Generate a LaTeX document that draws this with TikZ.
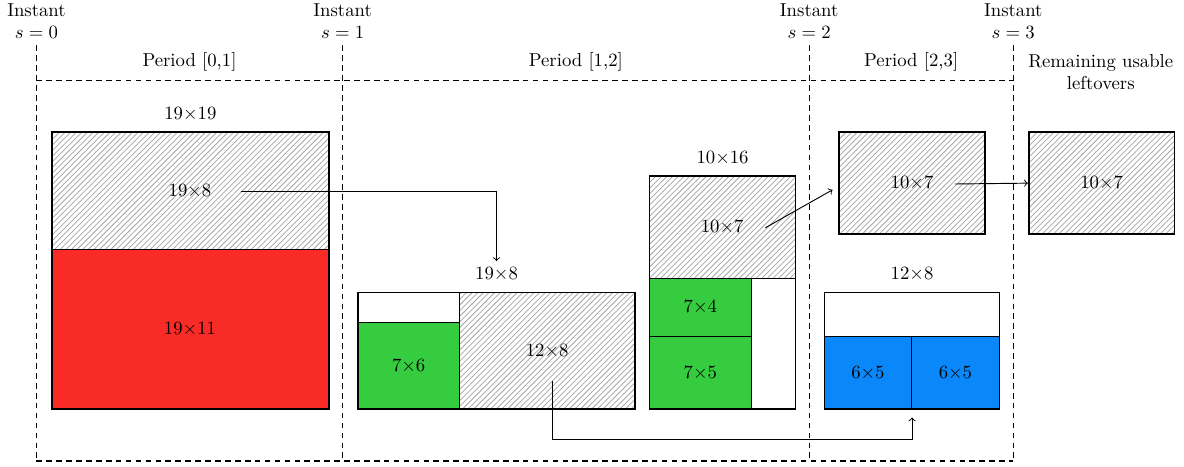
\documentclass[tikz,border=0pt]{standalone}
\usetikzlibrary{patterns,positioning}

\definecolor{usedred}{RGB}{249,43,38}
\definecolor{usedgreen}{RGB}{53,204,64}
\definecolor{usedblue}{RGB}{10,135,248}
\newlength{\boxunit}
\setlength{\boxunit}{0.2736cm}

\begin{document}
\begin{tikzpicture}[x=\boxunit, y=\boxunit,
    piece/.style 2 args={draw, line width=0.5pt, anchor=south west, inner sep=0pt,
      minimum width=#1\boxunit, minimum height=#2\boxunit},
    plate/.style 2 args={piece={#1}{#2}, line width=0.9pt},
    leftover/.style={pattern=north east lines, pattern color=gray!70},
    periodline/.style={line width=0.6pt, dash pattern=on 3pt off 2.3pt},
    carry/.style={->, line width=0.5pt}]
  \useasboundingbox (-3.5,-3.91) rectangle (77.71,28.12);

  % Instants & dashed period frame
  \foreach \x [count=\n from 0] in {-1,20,52,66} {
    \node[anchor=south, align=center] (inst\n) at (\x,25) {Instant\\$s=\n$};
    \draw[periodline] (inst\n.south) -- (\x,-3.5);
  }
  \draw[periodline] (-1,22.6) -- (66,22.6);
  \draw[periodline] (-1,-3.5) -- (66,-3.5);

  % Period labels
  \foreach \a/\b/\per [count=\n] in {-1/20/{[0,1]},20/52/{[1,2]},52/66/{[2,3]}}
    \node[above=1.5pt] (per\n) at ({(\a+\b)/2},22.6) {Period \per};
  \node[align=center, anchor=north] (remain) at (72,24.85) {Remaining usable\\leftovers};

  % Period [0,1]
  \node[piece={19}{11}, fill=usedred] (used0) at (0,0) {$19{\times}11$};
  \node[piece={19}{8}, leftover] (left0) at (0,11) {$19{\times}8$};
  \node[plate={19}{19}] (stock0) at (0,0) {};
  \node[above=2pt of stock0] (stock0-lbl) {$19{\times}19$};

  % Period [1,2]
  \node[piece={7}{6}, fill=usedgreen] (used1) at (21,0) {$7{\times}6$};
  \node[piece={7}{2}] (waste1) at (21,6) {};
  \node[piece={12}{8}, leftover] (left1) at (28,0) {$12{\times}8$};
  \node[plate={19}{8}] (stock1) at (21,0) {};
  \node[above=2pt of stock1] (stock1-lbl) {$19{\times}8$};

  \node[piece={7}{5}, fill=usedgreen] (used2) at (41,0) {$7{\times}5$};
  \node[piece={7}{4}, fill=usedgreen] (used3) at (41,5) {$7{\times}4$};
  \node[piece={3}{9}] (waste2) at (48,0) {};
  \node[piece={10}{7}, leftover] (left2) at (41,9) {$10{\times}7$};
  \node[plate={10}{16}] (stock2) at (41,0) {};
  \node[above=2pt of stock2] (stock2-lbl) {$10{\times}16$};

  % Period [2,3]
  \node[plate={10}{7}, leftover] (stock3) at (54,12) {$10{\times}7$};
  \node[piece={6}{5}, fill=usedblue] (used4) at (53,0) {$6{\times}5$};
  \node[piece={6}{5}, fill=usedblue] (used5) at (59,0) {$6{\times}5$};
  \node[piece={12}{3}] (waste3) at (53,5) {};
  \node[plate={12}{8}] (stock4) at (53,0) {};
  \node[above=2pt of stock4] (stock4-lbl) {$12{\times}8$};

  % Remaining leftover
  \node[plate={10}{7}, leftover] (rest) at (67,12) {$10{\times}7$};

  % Leftovers carried to the next period
  \coordinate (from0) at (13,15);
  \coordinate (from1) at (34.4,2);
  \coordinate (from2) at (49,12.5);
  \coordinate (to2) at (53.6,15.1);
  \coordinate (from3) at (62,15.5);
  \draw[carry] (from0) -| (stock1-lbl.north);
  \draw[carry, shorten >=4pt] (from1) -- ++(0,-4) -| (stock4.south);
  \draw[carry] (from2) -- (to2);
  \draw[carry] (from3) -- (rest.west);
\end{tikzpicture}
\end{document}
